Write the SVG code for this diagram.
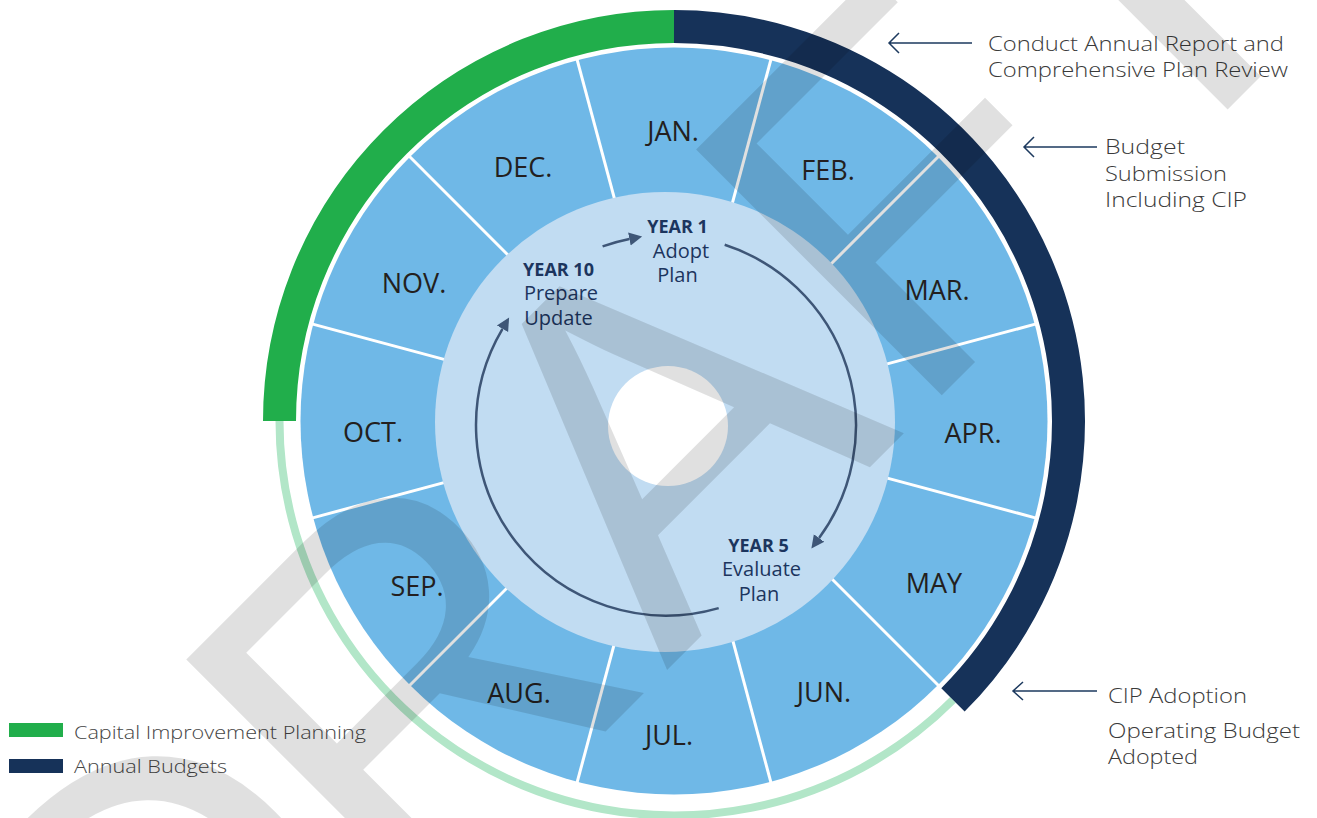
<svg xmlns="http://www.w3.org/2000/svg" width="1317" height="818" viewBox="0 0 1317 818">
<defs>
<style>
.month{font-family:"Open Sans","Noto Sans",sans-serif;font-size:27px;fill:#231f20;text-anchor:middle}
.yr{font-family:"Open Sans","Noto Sans",sans-serif;font-size:18px;font-weight:700;fill:#1c355e;text-anchor:middle}
.yt{font-family:"Open Sans","Noto Sans",sans-serif;font-size:20px;fill:#1c355e;text-anchor:middle}
.lbl{font-family:"Open Sans","Noto Sans",sans-serif;font-weight:300;font-size:20px;fill:#3a3a3a}
.leg{font-family:"Open Sans","Noto Sans",sans-serif;font-weight:300;font-size:19px;fill:#454545}
.div{stroke:#ffffff;stroke-width:3}
.cyc{fill:none;stroke:#3e5677;stroke-width:2.5}
.ptr{fill:none;stroke:#1d3a5f;stroke-width:1.5}
</style>
<marker id="head" markerUnits="userSpaceOnUse" markerWidth="14" markerHeight="16" refX="0" refY="7" orient="auto" viewBox="0 0 14 14">
<path d="M0,0.5 L13,7 L0,13.5 Z" fill="#3e5677"/>
</marker>
</defs>
<rect width="1317" height="818" fill="#ffffff"/>

<g id="timeline-arcs">
<path d="M 952.95 699.95 A 394.5 394.5 0 0 1 279.5 421" fill="none" stroke="#b2e6c8" stroke-width="8"/>
<path d="M 279.5 421 A 394.5 394.5 0 0 1 674 26.5" fill="none" stroke="#21ae4b" stroke-width="33"/>
<path d="M 674 26.5 A 394.5 394.5 0 0 1 952.95 699.95" fill="none" stroke="#163259" stroke-width="33"/>
</g>

<g id="month-ring">
<circle cx="674" cy="421" r="373.5" fill="#6fb8e7"/>
<line class="div" x1="729.6" y1="213.3" x2="771.1" y2="58.8"/>
<line class="div" x1="826.0" y1="269.0" x2="939.2" y2="155.8"/>
<line class="div" x1="881.7" y1="365.4" x2="1036.2" y2="323.9"/>
<line class="div" x1="881.7" y1="476.6" x2="1036.2" y2="518.1"/>
<line class="div" x1="826.0" y1="573.0" x2="939.2" y2="686.2"/>
<line class="div" x1="729.6" y1="628.7" x2="771.1" y2="783.2"/>
<line class="div" x1="618.4" y1="628.7" x2="576.9" y2="783.2"/>
<line class="div" x1="522.0" y1="573.0" x2="408.8" y2="686.2"/>
<line class="div" x1="466.3" y1="476.6" x2="311.8" y2="518.1"/>
<line class="div" x1="466.3" y1="365.4" x2="311.8" y2="323.9"/>
<line class="div" x1="522.0" y1="269.0" x2="408.8" y2="155.8"/>
<line class="div" x1="618.4" y1="213.3" x2="576.9" y2="58.8"/>
</g>

<g id="inner-circle">
<circle cx="665" cy="422" r="230" fill="#c1dcf2"/>
<circle cx="668" cy="426" r="60" fill="#ffffff"/>
</g>

<g id="jan"><text class="month" x="673" y="141">JAN.</text></g>
<g id="feb"><text class="month" x="828" y="180">FEB.</text></g>
<g id="mar"><text class="month" x="937" y="300">MAR.</text></g>
<g id="apr"><text class="month" x="973" y="443">APR.</text></g>
<g id="may"><text class="month" x="934" y="593">MAY</text></g>
<g id="jun"><text class="month" x="824" y="702">JUN.</text></g>
<g id="jul"><text class="month" x="669" y="745">JUL.</text></g>
<g id="aug"><text class="month" x="519" y="703">AUG.</text></g>
<g id="sep"><text class="month" x="417" y="596">SEP.</text></g>
<g id="oct"><text class="month" x="373" y="442">OCT.</text></g>
<g id="nov"><text class="month" x="414" y="293">NOV.</text></g>
<g id="dec"><text class="month" x="523" y="177">DEC.</text></g>

<g id="year1">
<text class="yr" x="677.5" y="233">YEAR 1</text>
<text class="yt" x="681" y="258">Adopt</text>
<text class="yt" x="677.5" y="282">Plan</text>
</g>
<g id="year10">
<text class="yr" x="558.5" y="276">YEAR 10</text>
<text class="yt" x="561" y="300">Prepare</text>
<text class="yt" x="558.5" y="325">Update</text>
</g>
<g id="year5">
<text class="yr" x="758.5" y="552">YEAR 5</text>
<text class="yt" x="761.5" y="576">Evaluate</text>
<text class="yt" x="759" y="601">Plan</text>
</g>

<g id="connectors">
<path class="cyc" d="M 602.6 246.4 A 190 190 0 0 1 629.4 239.0" marker-end="url(#head)"/>
<path class="cyc" d="M 724.7 244.8 A 190 190 0 0 1 819.1 538.0" marker-end="url(#head)"/>
<path class="cyc" d="M 718.7 608.1 A 190 190 0 0 1 502.5 328.8" marker-end="url(#head)"/>
<path class="ptr" d="M 972 43 H 889 M 899 33 L 889 43 L 899 53"/>
<path class="ptr" d="M 1097 147 H 1024 M 1034 137 L 1024 147 L 1034 157"/>
<path class="ptr" d="M 1097 691 H 1013 M 1023 682 L 1013 691 L 1023 700"/>
</g>

<g id="label-review">
<text class="lbl" x="988" y="51" textLength="296" lengthAdjust="spacingAndGlyphs">Conduct Annual Report and</text>
<text class="lbl" x="988" y="77" textLength="300" lengthAdjust="spacingAndGlyphs">Comprehensive Plan Review</text>
</g>
<g id="label-budget">
<text class="lbl" x="1105" y="154" textLength="80" lengthAdjust="spacingAndGlyphs">Budget</text>
<text class="lbl" x="1105" y="181" textLength="122" lengthAdjust="spacingAndGlyphs">Submission</text>
<text class="lbl" x="1105" y="207" textLength="142" lengthAdjust="spacingAndGlyphs">Including CIP</text>
</g>
<g id="label-adoption">
<text class="lbl" x="1108" y="703" textLength="139" lengthAdjust="spacingAndGlyphs">CIP Adoption</text>
<text class="lbl" x="1108" y="738" textLength="192" lengthAdjust="spacingAndGlyphs">Operating Budget</text>
<text class="lbl" x="1108" y="764" textLength="90" lengthAdjust="spacingAndGlyphs">Adopted</text>
</g>

<g id="legend">
<rect x="9" y="723" width="54" height="14" fill="#21ae4b"/>
<rect x="9" y="759" width="54" height="14" fill="#163259"/>
<text class="leg" x="74" y="739" textLength="292" lengthAdjust="spacingAndGlyphs">Capital Improvement Planning</text>
<text class="leg" x="74" y="773" textLength="153" lengthAdjust="spacingAndGlyphs">Annual Budgets</text>
</g>

<g id="watermark">
<text transform="translate(159.4,1177.6) rotate(-45)" x="0 344 717 1065 1380" y="0" font-family="Liberation Sans, Arial, sans-serif" font-size="505" fill="#000000" fill-opacity="0.12" style="font-kerning:none">DRAFT</text>
</g>
</svg>
